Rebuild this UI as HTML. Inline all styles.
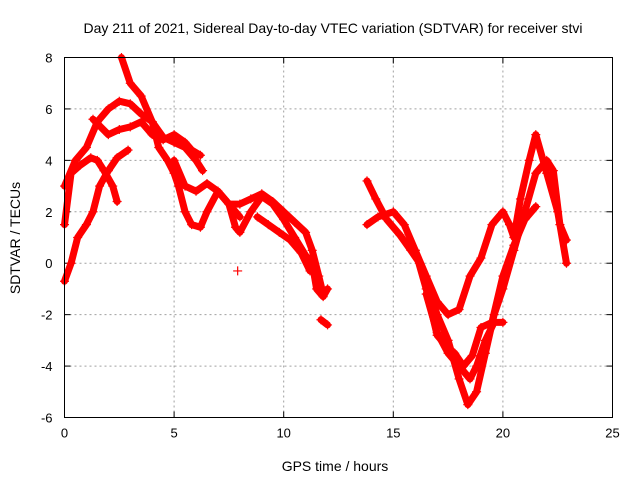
<!DOCTYPE html>
<html><head><meta charset="utf-8"><style>
html,body{margin:0;padding:0;background:#fff;}
svg{display:block;font-family:"Liberation Sans",sans-serif;}
</style></head><body>
<svg id="chart" width="640" height="480" viewBox="0 0 640 480">
<rect width="640" height="480" fill="#fff"/>
<text x="333" y="33" font-size="14" text-anchor="middle">Day 211 of 2021, Sidereal Day-to-day VTEC variation (SDTVAR) for receiver stvi</text>
<g id="grid"></g>
<g id="ticks"></g>
<g id="marks"></g>
<rect x="64.5" y="57.5" width="548" height="360" fill="none" stroke="#000" stroke-width="1"/>
<text x="335" y="471" font-size="14" text-anchor="middle">GPS time / hours</text>
<text transform="translate(20,238) rotate(-90)" font-size="14" text-anchor="middle">SDTVAR / TECUs</text>
</svg>
<script>
const xTicks=[0,5,10,15,20,25];
const yTicks=[-6,-4,-2,0,2,4,6,8];
const track1=[[0,-0.7],[0.3,0],[0.6,1],[1,1.5],[1.3,2],[1.6,3],[2,3.6],[2.4,4.1],[2.9,4.4]];
const track2=[[0,1.5],[0.3,3.5],[0.7,3.8],[1.2,4.1],[1.5,4.0],[1.8,3.6],[2.2,3],[2.4,2.4]];
const track3=[[0,3],[0.5,4],[1,4.5],[1.5,5.5],[2,6],[2.5,6.3],[3,6.2],[3.5,5.8],[4,5.5],[4.5,4.9],[5,4.7],[5.5,4.5],[6,4],[6.3,3.6]];
const track4=[[1.3,5.6],[2,5],[2.5,5.2],[3,5.3],[3.5,5.5],[4,5],[4.5,4.8],[5,5],[5.5,4.7],[5.8,4.4],[6.2,4.2]];
const track5=[[2.6,8],[3,7],[3.5,6.5],[4,5.5],[4.3,4.5],[4.7,4],[5,3.5],[5.2,3],[5.5,2],[5.8,1.5],[6.2,1.4],[6.5,2],[7,2.8],[7.3,2.5],[7.6,2.2],[8,1.8]];
const track6=[[5,4],[5.5,3],[6,2.8],[6.5,3.1],[7,2.8],[7.5,2.3],[7.8,1.4],[8,1.2],[8.5,2],[9,2.6],[9.5,2.3],[10,1.7],[10.5,1],[11,0.3],[11.3,0],[11.5,-1],[11.8,-1.3],[12,-1]];
const track7=[[7.5,2.3],[8,2.3],[8.5,2.5],[9,2.7],[9.5,2.4],[10,2],[10.5,1.6],[11,1.2],[11.3,0.5],[11.6,-0.5],[11.8,-1.2]];
const track8=[[8.8,1.8],[9.3,1.5],[9.8,1.2],[10.3,0.9],[10.8,0.4],[11.2,-0.3]];
const track9=[[13.8,3.2],[14.2,2.5],[14.7,1.7],[15.3,1.1],[15.8,0.5],[16.2,0],[16.6,-1],[17,-2],[17.5,-3],[18,-4.5],[18.4,-5.5],[18.8,-5],[19.2,-3.5],[19.6,-2],[20,-1],[20.5,0.5],[21,2],[21.5,3.5],[22,4],[22.3,3.6],[22.6,1.5],[22.9,0.9]];
const track10=[[13.8,1.5],[14.3,1.8],[15,2],[15.5,1.5],[16,0.5],[16.5,-1],[17,-2.8],[17.4,-3.2],[17.8,-3.5],[18.2,-4],[18.6,-3.6],[19,-2.5],[19.5,-2.3],[20,-0.5],[20.5,0.7],[21,1.7],[21.5,2.2]];
const track11=[[16,0.5],[16.5,-0.5],[17,-1.5],[17.5,-2],[18,-1.8],[18.5,-0.5],[19,0.2],[19.5,1.5],[20,2],[20.3,1.5],[20.5,1],[20.8,2.5],[21.2,4],[21.5,5],[22,3.5],[22.5,2],[22.9,0]];
const track12=[[16.5,-1.2],[17,-2.7],[17.5,-3.5],[18,-4],[18.5,-4.5],[18.8,-4],[19.2,-3],[19.6,-2.3],[20,-2.3]];
const track13=[[11.7,-2.2],[12,-2.4]];
const outliers=[[7.9,-0.3]];
const tracks=[track1,track2,track3,track4,track5,track6,track7,track8,track9,track10,track11,track12,track13,outliers];

const X0=64.5,X1=612.5,Y0=417.5,Y1=57.5;
const sx=v=>X0+(v-0)/(25-0)*(X1-X0);
const sy=v=>Y0-(v-(-6))/(8-(-6))*(Y0-Y1);
const NS="http://www.w3.org/2000/svg";
const grid=document.getElementById('grid'),ticks=document.getElementById('ticks'),marks=document.getElementById('marks');
function mk(tag,attrs,parent){const e=document.createElementNS(NS,tag);for(const k in attrs)e.setAttribute(k,attrs[k]);parent.appendChild(e);return e;}
xTicks.forEach(t=>{const x=sx(t);
 if(t>0&&t<25){const g=mk('line',{x1:x,x2:x,y1:Y0,y2:Y1,stroke:'#a0a0a0','stroke-dasharray':'2,3'},grid);}
 mk('line',{x1:x,x2:x,y1:Y0,y2:Y0-6,stroke:'#000'},ticks);mk('line',{x1:x,x2:x,y1:Y1,y2:Y1+6,stroke:'#000'},ticks);
 const l=mk('text',{x:x,y:Y0+20,'font-size':13,'text-anchor':'middle'},ticks);l.textContent=t;
 });
yTicks.forEach(t=>{const y=sy(t);
 if(t>-6&&t<8){const g=mk('line',{x1:X0,x2:X1,y1:y,y2:y,stroke:'#a0a0a0','stroke-dasharray':'2,3'},grid);}
 mk('line',{x1:X0,x2:X0+6,y1:y,y2:y,stroke:'#000'},ticks);mk('line',{x1:X1,x2:X1-6,y1:y,y2:y,stroke:'#000'},ticks);
 const l=mk('text',{x:X0-12,y:y+5,'font-size':13,'text-anchor':'end'},ticks);l.textContent=t;
 });
tracks.forEach(tr=>{
 if(tr.length>1){const p=mk('polyline',{points:tr.map(d=>sx(d[0])+','+sy(d[1])).join(' '),fill:'none',stroke:'#ff0000','stroke-width':7,'stroke-linejoin':'round','stroke-linecap':'round'},marks);
  }
 tr.forEach(d=>{const x=sx(d[0]),y=sy(d[1]);
  const m=mk('path',{d:`M${x-4.5},${y}H${x+4.5}M${x},${y-4.5}V${y+4.5}`,stroke:'#ff0000','stroke-width':1.2},marks);
  });
});
</script>
</body></html>
